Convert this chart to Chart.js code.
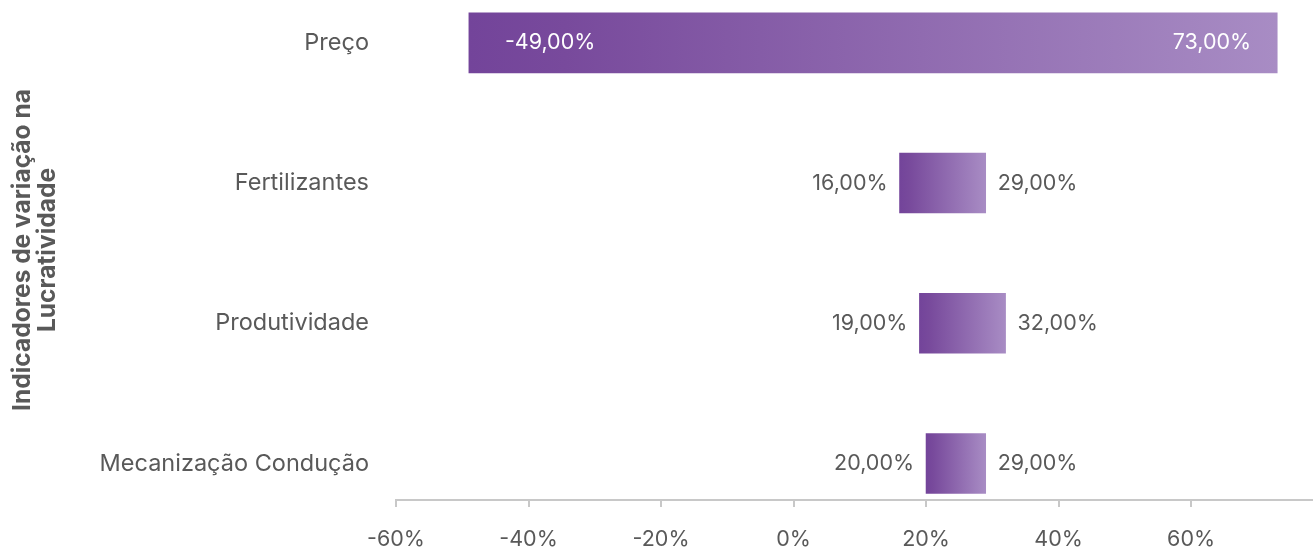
<!DOCTYPE html>
<html>
<head>
<meta charset="utf-8">
<script src="https://cdn.jsdelivr.net/npm/chart.js@4"></script>
<style>
  html, body { margin: 0; padding: 0; background: #fff; }
  #wrap { width: 1313px; height: 548px; }
</style>
</head>
<body>
<div id="wrap"><canvas id="tornado"></canvas></div>
<script>
const categories = ['Preço', 'Fertilizantes', 'Produtividade', 'Mecanização Condução'];
const lowValues = [-49, 16, 19, 20];
const highValues = [73, 29, 32, 29];
const xTicks = [-60, -40, -20, 0, 20, 40, 60];

const FONT = 'Inter, "Open Sans", sans-serif';
const TEXT = '#595959';

const fmt = (v) => v.toFixed(2).replace('.', ',') + '%';

// rótulos nas pontas das barras
const endLabels = {
  id: 'endLabels',
  afterDatasetsDraw(chart) {
    const { ctx } = chart;
    const meta = chart.getDatasetMeta(0);
    ctx.save();
    ctx.font = '21.5px ' + FONT;
    ctx.textBaseline = 'middle';
    meta.data.forEach((bar, i) => {
      const left = Math.min(bar.x, bar.base);
      const right = Math.max(bar.x, bar.base);
      const inside = right - left > 300;
      if (inside) {
        ctx.fillStyle = '#ffffff';
        ctx.textAlign = 'left';
        ctx.fillText(fmt(lowValues[i]), left + 36, bar.y);
        ctx.textAlign = 'right';
        ctx.fillText(fmt(highValues[i]), right - 26, bar.y);
      } else {
        ctx.fillStyle = TEXT;
        ctx.textAlign = 'right';
        ctx.fillText(fmt(lowValues[i]), left - 12, bar.y);
        ctx.textAlign = 'left';
        ctx.fillText(fmt(highValues[i]), right + 12, bar.y);
      }
    });
    ctx.restore();
  }
};

document.addEventListener('DOMContentLoaded', () => {
  const canvas = document.querySelector('#tornado');

  const data = {
    datasets: [{
      data: categories.map((c, i) => ({ x: [lowValues[i], highValues[i]], y: i })),
      backgroundColor: (context) => {
        const chart = context.chart;
        const x = chart.scales && chart.scales.x;
        if (!x || context.dataIndex === undefined) return '#8a62b0';
        const x0 = x.getPixelForValue(lowValues[context.dataIndex]);
        const x1 = x.getPixelForValue(highValues[context.dataIndex]);
        if (!isFinite(x0) || !isFinite(x1)) return '#8a62b0';
        const g = chart.ctx.createLinearGradient(x0, 0, x1, 0);
        g.addColorStop(0, '#73449a');
        g.addColorStop(0.12, '#784a9c');
        g.addColorStop(1, '#a88cc4');
        return g;
      },
      borderWidth: 0,
      borderSkipped: false,
      barThickness: 60
    }]
  };

  const config = {
    type: 'bar',
    data: data,
    options: {
      indexAxis: 'y',
      responsive: true,
      maintainAspectRatio: false,
      animation: false,
      layout: { padding: 0 },
      plugins: {
        legend: { display: false },
        tooltip: { enabled: false }
      },
      scales: {
        x: {
          type: 'linear',
          min: -60,
          max: 78.4,
          afterBuildTicks: (scale) => { scale.ticks = xTicks.map((v) => ({ value: v })); },
          afterFit: (scale) => { scale.height = 48; },
          border: { color: '#c8c8c8', width: 2 },
          grid: { drawOnChartArea: false, color: '#c8c8c8', lineWidth: 2, tickLength: 7 },
          ticks: {
            color: TEXT,
            font: { family: FONT, size: 21.5 },
            padding: 20,
            maxRotation: 0,
            callback: (v) => v + '%'
          }
        },
        y: {
          type: 'linear',
          reverse: true,
          offset: false,
          min: -0.3052,
          max: 3.2602,
          afterBuildTicks: (scale) => { scale.ticks = categories.map((c, i) => ({ value: i })); },
          afterFit: (scale) => { scale.width = 396; scale.paddingTop = 0; scale.paddingBottom = 0; },
          border: { display: false },
          grid: { display: false },
          ticks: {
            color: TEXT,
            font: { family: FONT, size: 23.5 },
            padding: 19,
            callback: (v) => categories[v]
          },
          title: {
            display: true,
            text: ['Indicadores de variação na', 'Lucratividade'],
            color: TEXT,
            font: { family: FONT, size: 24.5, weight: 'bold', lineHeight: 1.02 },
            padding: { top: 10, bottom: 0 }
          }
        }
      }
    },
    plugins: [endLabels]
  };

  new Chart(canvas, config);
});
</script>
</body>
</html>
